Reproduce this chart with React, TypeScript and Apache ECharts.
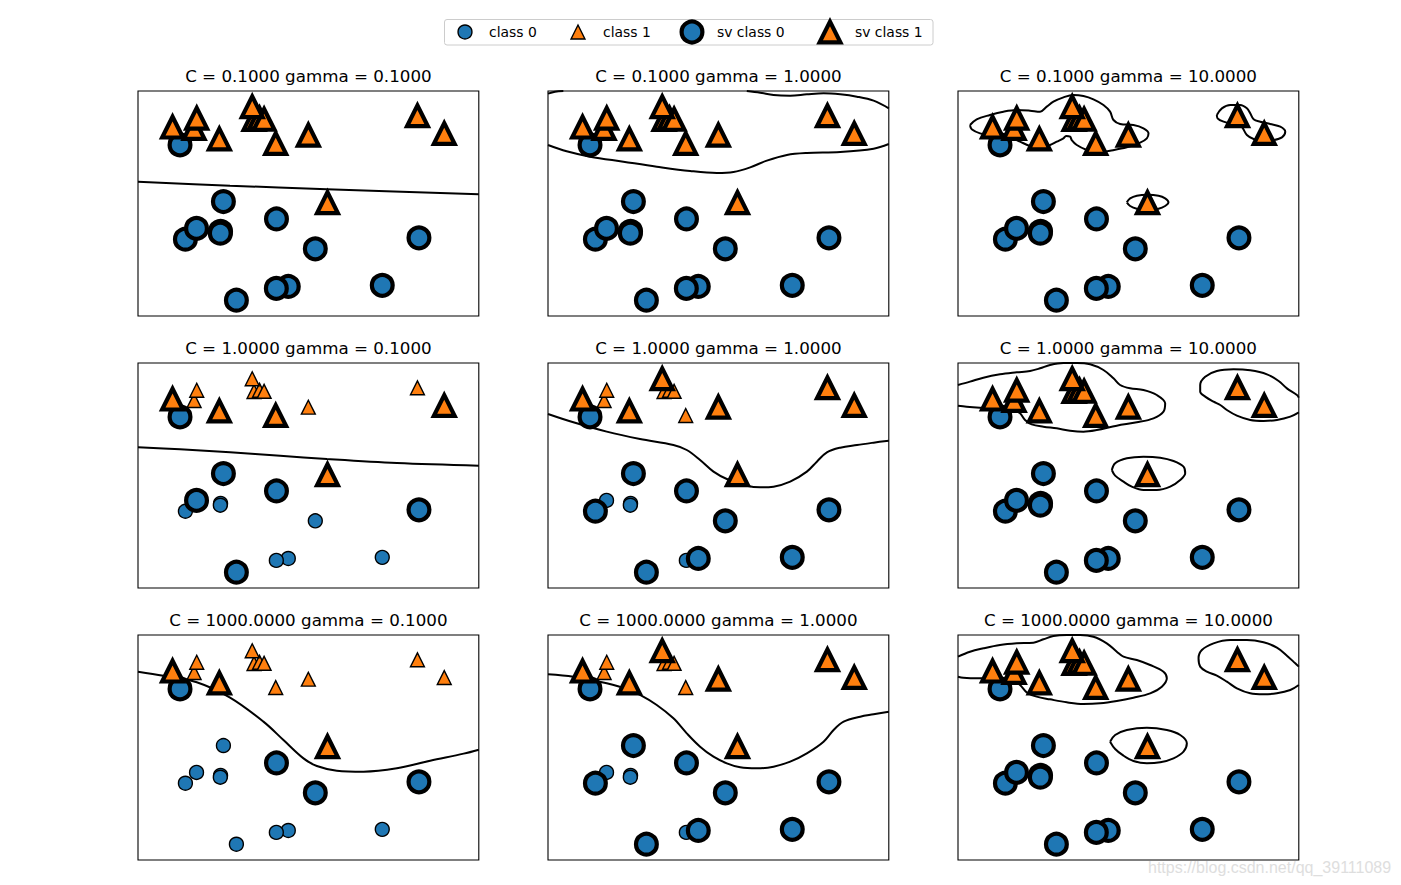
import React, { useEffect, useRef } from "react";
import * as echarts from "echarts";

// ---- data (forge-like handcrafted dataset) ----
const featureX = [9.963, 11.033, 11.542, 8.693, 8.106, 8.310, 11.930, 9.673, 8.348, 8.675, 9.177, 10.240, 8.689, 8.922, 9.491, 9.257, 7.998, 8.184, 8.734, 9.323, 10.064, 9.500, 8.345, 9.502, 9.151, 11.564];
const featureY = [4.597, -0.168, 5.211, 1.543, 4.287, 4.806, 4.649, -0.203, 5.134, 4.476, 5.093, 2.455, 1.487, -0.640, 4.332, 5.133, 4.853, 1.296, 2.492, 5.098, 0.991, -0.264, 1.638, 1.938, 5.498, 1.339];
const classes = [1, 0, 1, 0, 0, 1, 1, 0, 1, 1, 1, 1, 0, 0, 1, 1, 1, 0, 0, 1, 0, 0, 0, 0, 1, 0];

const cValues = [0.1, 1, 1000];
const gammaValues = [0.1, 1, 10];

const legendLabels = ["class 0", "class 1", "sv class 0", "sv class 1"];
const watermark = "https://blog.csdn.net/qq_39111089";

// support vector indices per panel (null = every point)
const svC01g01: number[] | null = null;
const svC01g1: number[] | null = null;
const svC01g10: number[] | null = null;
const svC1g01 = [16, 9, 14, 6, 11, 4, 18, 22, 23, 25, 13];
const svC1g1 = [16, 9, 24, 0, 11, 2, 6, 4, 18, 17, 23, 20, 25, 1, 7, 13];
const svC1g10: number[] | null = null;
const svC1000g01 = [16, 9, 11, 4, 23, 20, 25];
const svC1000g1 = [16, 9, 24, 0, 11, 2, 6, 4, 18, 17, 23, 20, 25, 1, 7, 13];
const svC1000g10: number[] | null = null;

// decision boundaries, data coordinates
const bC01g01 = [[[7.498, 3.122], [8.830, 2.995], [10.231, 2.878], [12.430, 2.720]]];
const bC01g1 = [
  [[7.498, 5.913], [7.599, 5.977], [7.720, 5.998]],
  [[10.375, 5.998], [10.569, 5.945], [10.762, 5.871], [11.003, 5.850], [11.244, 5.892], [11.486, 5.924], [11.727, 5.892], [11.969, 5.818], [12.210, 5.691], [12.430, 5.448]],
  [[7.498, 4.285], [7.768, 4.084], [8.106, 3.915], [8.589, 3.756], [9.072, 3.598], [9.555, 3.460], [9.941, 3.397], [10.182, 3.428], [10.424, 3.576], [10.665, 3.788], [10.955, 3.968], [11.244, 4.031], [11.727, 4.063], [12.210, 4.169], [12.430, 4.317]],
];
const bC01g10 = [
  [[7.672, 4.919], [7.768, 5.099], [7.961, 5.237], [8.155, 5.342], [8.348, 5.395], [8.541, 5.374], [8.686, 5.342], [8.782, 5.501], [8.879, 5.660], [9.024, 5.797], [9.168, 5.871], [9.313, 5.839], [9.458, 5.734], [9.603, 5.554], [9.699, 5.342], [9.748, 5.078], [9.844, 4.951], [10.037, 4.919], [10.182, 4.814], [10.255, 4.655], [10.231, 4.496], [10.134, 4.359], [9.941, 4.211], [9.699, 4.105], [9.506, 4.042], [9.362, 4.126], [9.217, 4.285], [9.144, 4.443], [9.120, 4.549], [9.062, 4.570], [9.024, 4.496], [8.927, 4.391], [8.830, 4.285], [8.686, 4.211], [8.541, 4.253], [8.396, 4.391], [8.251, 4.528], [8.106, 4.570], [7.961, 4.602], [7.817, 4.655], [7.696, 4.782], [7.672, 4.919]],
  [[11.244, 5.237], [11.317, 5.448], [11.438, 5.554], [11.582, 5.554], [11.679, 5.448], [11.727, 5.290], [11.776, 5.099], [11.872, 5.025], [12.017, 4.951], [12.162, 4.866], [12.234, 4.708], [12.186, 4.528], [12.065, 4.443], [11.920, 4.422], [11.776, 4.475], [11.679, 4.602], [11.621, 4.814], [11.582, 4.919], [11.486, 4.951], [11.341, 5.025], [11.254, 5.131], [11.244, 5.237]],
  [[9.941, 2.466], [9.989, 2.593], [10.086, 2.678], [10.240, 2.709], [10.400, 2.678], [10.496, 2.593], [10.544, 2.466], [10.496, 2.350], [10.400, 2.265], [10.240, 2.233], [10.086, 2.265], [9.989, 2.350], [9.941, 2.466]],
];
const bC1g01 = [[[7.498, 3.322], [8.106, 3.259], [8.830, 3.164], [9.555, 3.058], [10.231, 2.952], [11.244, 2.825], [12.430, 2.741]]];
const bC1g1 = [[[7.498, 4.380], [7.865, 4.116], [8.348, 3.820], [8.830, 3.587], [9.313, 3.397], [9.506, 3.238], [9.699, 2.921], [9.893, 2.551], [10.086, 2.318], [10.375, 2.106], [10.569, 2.054], [10.762, 2.075], [11.003, 2.233], [11.244, 2.551], [11.389, 2.868], [11.534, 3.164], [11.727, 3.312], [11.969, 3.397], [12.210, 3.471], [12.430, 3.534]]];
const bC1g10 = [
  [[7.498, 5.300], [7.672, 5.406], [7.865, 5.533], [8.106, 5.639], [8.348, 5.702], [8.541, 5.744], [8.686, 5.829], [8.830, 5.935], [9.024, 5.998], [9.217, 5.998], [9.410, 5.956], [9.603, 5.776], [9.748, 5.512], [9.844, 5.300], [9.989, 5.194], [10.182, 5.141], [10.375, 4.983], [10.496, 4.718], [10.472, 4.454], [10.327, 4.243], [10.086, 4.116], [9.796, 4.010], [9.506, 3.872], [9.313, 3.820], [9.120, 3.851], [8.927, 3.925], [8.734, 3.978], [8.565, 4.052], [8.468, 4.190], [8.396, 4.401], [8.299, 4.507], [8.155, 4.539], [8.010, 4.560], [7.817, 4.581], [7.623, 4.613], [7.498, 4.645]],
  [[12.430, 4.898], [12.403, 4.983], [12.258, 5.194], [12.138, 5.427], [11.969, 5.639], [11.727, 5.765], [11.486, 5.797], [11.244, 5.744], [11.075, 5.564], [11.003, 5.300], [11.003, 5.088], [11.075, 4.930], [11.196, 4.771], [11.293, 4.666], [11.389, 4.507], [11.534, 4.327], [11.727, 4.190], [11.920, 4.158], [12.113, 4.190], [12.307, 4.295], [12.430, 4.433]],
  [[9.724, 2.603], [9.772, 2.815], [9.941, 2.974], [10.182, 3.026], [10.424, 2.995], [10.617, 2.889], [10.762, 2.709], [10.786, 2.498], [10.714, 2.286], [10.569, 2.075], [10.375, 1.969], [10.182, 1.969], [10.013, 2.075], [9.893, 2.233], [9.772, 2.424], [9.724, 2.603]],
];
const bC1000g01 = [[[7.498, 4.835], [7.865, 4.708], [8.348, 4.497], [8.830, 4.010], [9.313, 3.249], [9.603, 2.667], [9.893, 2.085], [10.086, 1.842], [10.375, 1.694], [10.762, 1.662], [11.244, 1.768], [11.727, 2.011], [12.210, 2.234], [12.430, 2.360]]];
const bC1000g1 = [[[7.498, 4.750], [7.865, 4.676], [8.106, 4.571], [8.348, 4.465], [8.637, 4.285], [8.830, 4.095], [9.072, 3.777], [9.313, 3.354], [9.506, 2.879], [9.699, 2.456], [9.893, 2.138], [10.086, 1.927], [10.279, 1.800], [10.520, 1.768], [10.762, 1.821], [11.003, 1.980], [11.244, 2.244], [11.486, 2.614], [11.631, 2.984], [11.776, 3.249], [12.017, 3.407], [12.210, 3.481], [12.430, 3.566]]];
const bC1000g10 = [
  [[7.498, 5.311], [7.672, 5.469], [7.865, 5.575], [8.106, 5.681], [8.348, 5.734], [8.589, 5.755], [8.734, 5.861], [8.879, 5.967], [9.072, 5.998], [9.265, 5.998], [9.458, 5.945], [9.651, 5.734], [9.796, 5.469], [9.893, 5.311], [10.086, 5.205], [10.279, 5.046], [10.472, 4.835], [10.520, 4.623], [10.448, 4.359], [10.279, 4.148], [10.037, 4.010], [9.796, 3.904], [9.555, 3.830], [9.313, 3.809], [9.072, 3.862], [8.830, 3.957], [8.637, 4.042], [8.492, 4.179], [8.396, 4.412], [8.299, 4.539], [8.155, 4.602], [7.961, 4.623], [7.768, 4.623], [7.575, 4.645], [7.498, 4.676]],
  [[12.430, 4.994], [12.379, 5.099], [12.258, 5.343], [12.113, 5.596], [11.920, 5.766], [11.679, 5.840], [11.438, 5.840], [11.196, 5.734], [11.027, 5.522], [10.979, 5.258], [11.003, 4.994], [11.100, 4.835], [11.244, 4.708], [11.389, 4.518], [11.534, 4.306], [11.727, 4.148], [11.920, 4.116], [12.113, 4.148], [12.307, 4.253], [12.430, 4.412]],
  [[9.699, 2.614], [9.772, 2.826], [9.941, 2.984], [10.231, 3.058], [10.520, 2.984], [10.714, 2.826], [10.810, 2.561], [10.762, 2.297], [10.617, 2.085], [10.424, 1.959], [10.231, 1.927], [10.037, 2.001], [9.893, 2.170], [9.772, 2.382], [9.699, 2.614]],
];

const panelSV = [svC01g01, svC01g1, svC01g10, svC1g01, svC1g1, svC1g10, svC1000g01, svC1000g1, svC1000g10];
const panelBoundaries = [bC01g01, bC01g1, bC01g10, bC1g01, bC1g1, bC1g10, bC1000g01, bC1000g1, bC1000g10];

// axis limits (data min/max +- 0.5)
const X_MIN = 7.498, X_MAX = 12.430, Y_MIN = -1.140, Y_MAX = 5.998;

// layout
const COL_LEFT = [138, 548, 958];
const ROW_TOP = [91, 363, 635];
const PW = 340.8, PH = 225;
const BLUE = "#1f77b4", ORANGE = "#ff7f0e";
const FONT = "DejaVu Sans";

function buildOption() {
  const grid: any[] = [], xAxis: any[] = [], yAxis: any[] = [], series: any[] = [], graphic: any[] = [];
  for (let r = 0; r < 3; r++) {
    for (let c = 0; c < 3; c++) {
      const i = r * 3 + c;
      grid.push({ left: COL_LEFT[c], top: ROW_TOP[r], width: PW, height: PH, show: true, borderColor: "#000", borderWidth: 1.1, backgroundColor: "#fff", containLabel: false });
      xAxis.push({ type: "value", gridIndex: i, min: X_MIN, max: X_MAX, show: false });
      yAxis.push({ type: "value", gridIndex: i, min: Y_MIN, max: Y_MAX, show: false });
      panelBoundaries[i].forEach((poly) => {
        series.push({ type: "line", xAxisIndex: i, yAxisIndex: i, data: poly, symbol: "none", showSymbol: false, smooth: 0.35, clip: true, silent: true, z: 1, lineStyle: { color: "#000", width: 2 } });
      });
      const idx = featureX.map((_, k) => k);
      const pts = (ks: number[]) => ks.map((k) => [featureX[k], featureY[k]]);
      const sv = panelSV[i] ?? idx;
      const mk = (name: string, data: any, sym: string, size: number, color: string, bw: number, z: number) => ({
        type: "scatter", name, xAxisIndex: i, yAxisIndex: i, data, symbol: sym, symbolSize: size, z, silent: true, clip: true,
        itemStyle: { color, opacity: 1, borderColor: "#000", borderWidth: bw, borderJoin: "miter", borderMiterLimit: 10 },
      });
      series.push(mk(legendLabels[0], pts(idx.filter((k) => classes[k] === 0)), "circle", 13.9, BLUE, 1.4, 2));
      series.push(mk(legendLabels[1], pts(idx.filter((k) => classes[k] === 1)), "triangle", 13.9, ORANGE, 1.4, 3));
      series.push(mk(legendLabels[2], pts(sv.filter((k) => classes[k] === 0)), "circle", 20.8, BLUE, 4.2, 4));
      series.push(mk(legendLabels[3], pts(sv.filter((k) => classes[k] === 1)), "triangle", 20.8, ORANGE, 4.2, 5));
      graphic.push({
        type: "text", x: COL_LEFT[c] + PW / 2, y: ROW_TOP[r] - 15, z: 10,
        style: { text: `C = ${cValues[r].toFixed(4)} gamma = ${gammaValues[c].toFixed(4)}`, fill: "#000", fontSize: 16.7, fontFamily: FONT, textAlign: "center", textVerticalAlign: "middle" },
      });
    }
  }
  // legend (drawn manually to allow different marker sizes)
  graphic.push({ type: "rect", shape: { x: 444.5, y: 19.5, width: 488.5, height: 25.5, r: 2.5 }, style: { fill: "rgba(255,255,255,0.8)", stroke: "#cccccc", lineWidth: 1 }, z: 10 });
  const ly = 32;
  graphic.push({ type: "circle", shape: { cx: 465, cy: ly, r: 6.95 }, style: { fill: BLUE, stroke: "#000", lineWidth: 1.4 }, z: 11 });
  graphic.push({ type: "polygon", shape: { points: [[578, ly - 6.95], [584.95, ly + 6.95], [571.05, ly + 6.95]] }, style: { fill: ORANGE, stroke: "#000", lineWidth: 1.4, lineJoin: "miter" }, z: 11 });
  graphic.push({ type: "circle", shape: { cx: 692, cy: ly, r: 10.4 }, style: { fill: BLUE, stroke: "#000", lineWidth: 4.2 }, z: 11 });
  graphic.push({ type: "polygon", shape: { points: [[830, ly - 10.4], [840.4, ly + 10.4], [819.6, ly + 10.4]] }, style: { fill: ORANGE, stroke: "#000", lineWidth: 4.2, lineJoin: "miter", miterLimit: 10 }, z: 11 });
  const lx = [489, 603, 717, 855];
  legendLabels.forEach((t, k) => {
    graphic.push({ type: "text", x: lx[k], y: 31.5, z: 11, style: { text: t, fill: "#000", fontSize: 13.9, fontFamily: FONT, textAlign: "left", textVerticalAlign: "middle" } });
  });
  graphic.push({ type: "text", x: 1148, y: 867, z: 11, style: { text: watermark, fill: "#dedede", fontSize: 16, fontFamily: "Liberation Sans", textAlign: "left", textVerticalAlign: "middle" } });

  return { animation: false, backgroundColor: "#fff", grid, xAxis, yAxis, series, graphic };
}

export default function App() {
  const ref = useRef<HTMLDivElement>(null);
  useEffect(() => {
    if (!ref.current) return;
    const chart = echarts.init(ref.current, undefined, { renderer: "svg" });
    chart.setOption(buildOption() as any);
    return () => chart.dispose();
  }, []);
  return <div ref={ref} style={{ position: "absolute", left: 0, top: 0, width: 1401, height: 885 }} />;
}
